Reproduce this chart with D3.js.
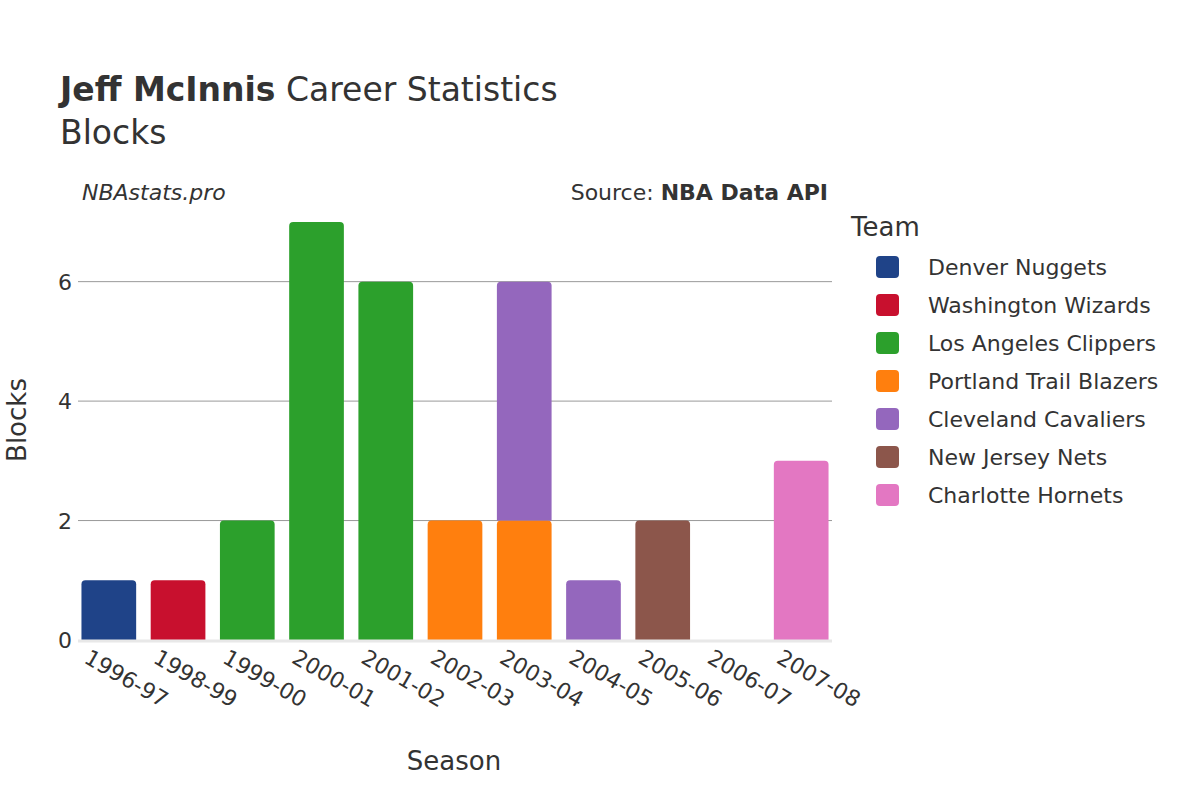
<!DOCTYPE html><html><head><meta charset="utf-8">
<script src="https://cdn.jsdelivr.net/npm/d3@7/dist/d3.min.js"></script>
<style>body{margin:0;background:#fff}text{font-family:"DejaVu Sans",sans-serif;fill:#333}</style></head><body>
<svg id="c" width="1200" height="800"></svg>
<script>
const seasons=["1996-97","1998-99","1999-00","2000-01","2001-02","2002-03","2003-04","2004-05","2005-06","2006-07","2007-08"];
const teams=["Denver Nuggets","Washington Wizards","Los Angeles Clippers","Portland Trail Blazers","Cleveland Cavaliers","New Jersey Nets","Charlotte Hornets"];
const colors=["#1f4388","#c8102e","#2ca02c","#ff7f0e","#9467bd","#8c564b","#e377c2"];
// rows: [season, team, blocks]
const rowSeason=["1996-97","1998-99","1999-00","2000-01","2001-02","2002-03","2003-04","2003-04","2004-05","2005-06","2006-07","2007-08"];
const rowTeam=["Denver Nuggets","Washington Wizards","Los Angeles Clippers","Los Angeles Clippers","Los Angeles Clippers","Portland Trail Blazers","Portland Trail Blazers","Cleveland Cavaliers","Cleveland Cavaliers","New Jersey Nets","New Jersey Nets","Charlotte Hornets"];
const rowBlocks=[1,1,2,7,6,2,2,4,1,2,0,3];
const yTicks=[0,2,4,6];

const svg=d3.select("#c");
const x=d3.scaleBand().domain(seasons).range([78,832]).paddingInner(0.21).paddingOuter(0.05);
const y=d3.scaleLinear().domain([0,7.3]).range([640,204]);
const col=d3.scaleOrdinal().domain(teams).range(colors);

svg.append("g").selectAll("line").data(yTicks.filter(d=>d>0)).join("line")
 .attr("x1",78).attr("x2",832).attr("y1",d=>y(d)).attr("y2",d=>y(d)).attr("stroke","#999").attr("stroke-width",1);
svg.append("g").selectAll("text").data(yTicks).join("text")
 .attr("x",72).attr("y",d=>y(d)+8).attr("text-anchor","end").attr("font-size",22).text(d=>d);

const base={};
const rows=rowSeason.map((s,i)=>{const b=base[s]||0;base[s]=b+rowBlocks[i];return{s,t:rowTeam[i],v:rowBlocks[i],y0:b};});
svg.append("g").selectAll("path").data(rows).join("path")
 .attr("fill",d=>col(d.t))
 .attr("d",d=>{const x0=x(d.s),w=x.bandwidth(),top=y(d.y0+d.v),bot=y(d.y0),r=Math.min(4,(bot-top)/2);
   const p=d3.path();p.moveTo(x0,bot);p.lineTo(x0,top+r);p.quadraticCurveTo(x0,top,x0+r,top);p.lineTo(x0+w-r,top);p.quadraticCurveTo(x0+w,top,x0+w,top+r);p.lineTo(x0+w,bot);p.closePath();return p.toString();});
svg.append("line").attr("x1",78).attr("x2",832).attr("y1",641).attr("y2",641).attr("stroke","#e8e8e8").attr("stroke-width",3);

svg.append("g").selectAll("text").data(seasons).join("text")
 .attr("transform",d=>`translate(${x(d)+x.bandwidth()/2-26},662) rotate(30)`)
 .attr("font-size",22).text(d=>d);

svg.append("text").attr("x",60).attr("y",101).attr("font-size",33).html('<tspan font-weight="bold">Jeff McInnis</tspan> Career Statistics');
svg.append("text").attr("x",60).attr("y",144).attr("font-size",33).text("Blocks");
svg.append("text").attr("x",82).attr("y",200).attr("font-size",22).attr("font-style","italic").text("NBAstats.pro");
svg.append("text").attr("x",828).attr("y",200).attr("font-size",22).attr("text-anchor","end").html('Source: <tspan font-weight="bold">NBA Data API</tspan>');
svg.append("text").attr("x",454).attr("y",770).attr("font-size",26).attr("text-anchor","middle").text("Season");
svg.append("text").attr("transform","translate(26,420) rotate(-90)").attr("font-size",26).attr("text-anchor","middle").text("Blocks");

svg.append("text").attr("x",851).attr("y",236).attr("font-size",26).text("Team");
const lg=svg.append("g").selectAll("g").data(teams).join("g").attr("transform",(d,i)=>`translate(876,${267+i*38})`);
lg.append("rect").attr("x",0).attr("y",-11).attr("width",23).attr("height",22).attr("rx",4).attr("fill",d=>col(d));
lg.append("text").attr("x",52).attr("y",8).attr("font-size",22).text(d=>d);
</script></body></html>
